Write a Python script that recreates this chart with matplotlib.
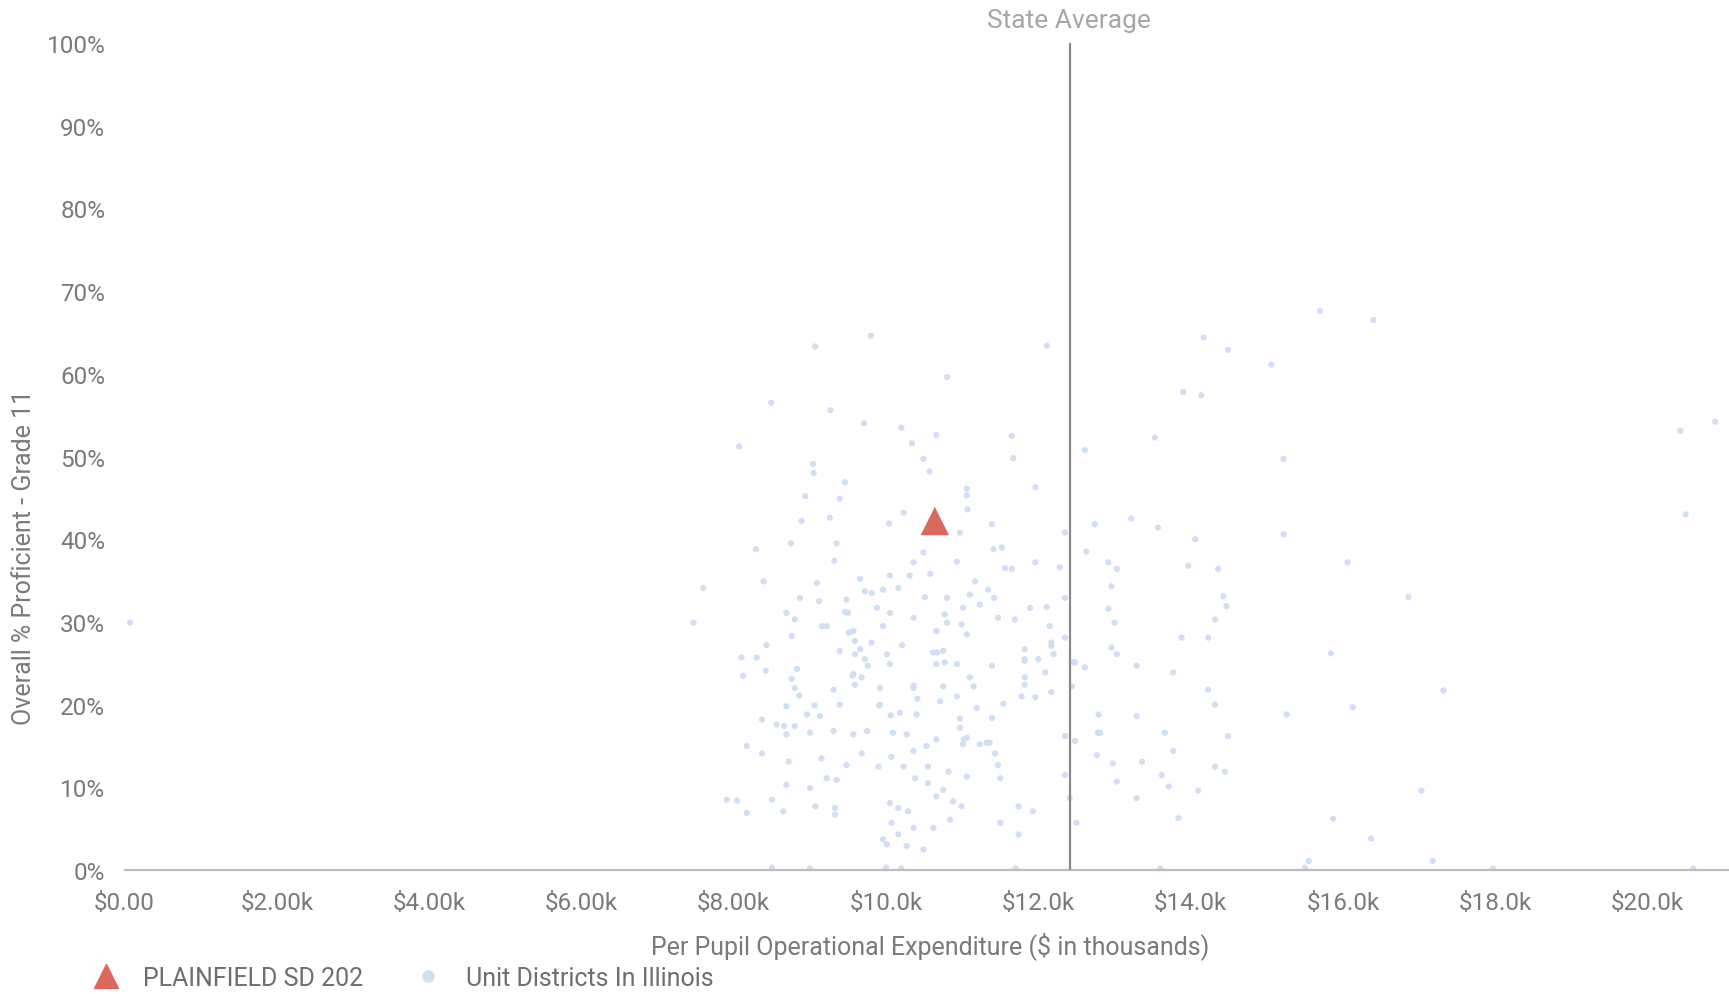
import matplotlib
matplotlib.use("Agg")
import matplotlib.pyplot as plt
from matplotlib.lines import Line2D

plt.rcParams['font.family'] = ['Roboto', 'DejaVu Sans']

# per pupil expenditure ($ thousands) and % proficient for each unit district
district_x = [
    9.07, 9.80, 10.80, 8.49, 9.27, 9.71, 10.20, 10.66, 10.34, 8.07, 10.49, 9.04, 9.05, 10.57, 9.46, 11.06,
    12.11, 14.17, 14.49, 15.06, 13.90, 14.14, 13.53, 11.65, 11.67, 12.61, 15.22, 11.96,
    8.94, 9.39, 11.06, 11.07, 10.23, 10.04, 8.89, 9.26, 10.97, 8.75, 9.35, 8.29, 9.32, 10.49, 10.36, 10.93,
    10.58, 10.31, 10.05, 9.66, 9.09, 8.39, 7.60, 11.17, 10.16, 9.96, 9.72, 9.81, 8.87, 9.12, 9.48, 10.51,
    10.80, 11.10, 11.23, 9.50, 9.88, 10.05, 8.69, 8.80, 7.47, 10.36, 10.77, 10.80, 11.01, 10.99, 9.22, 9.96,
    9.57, 10.66, 11.06, 8.76, 9.59, 9.81, 10.21, 8.43, 9.39, 9.59, 10.01, 10.62, 10.75, 8.10, 8.30, 9.72,
    10.05, 10.66, 10.93, 8.42, 8.83, 8.12, 9.57, 9.68, 11.10,
    11.39, 12.74, 13.22, 13.57, 14.06, 15.22, 12.35, 11.52, 11.41, 12.63, 11.96, 11.56, 11.65, 12.28, 12.92,
    13.03, 13.97, 14.36, 12.96, 12.35, 11.34, 11.42, 14.43, 14.47, 11.89, 12.11, 12.92, 11.47, 11.69, 13.00,
    14.32, 12.15, 12.35, 13.88, 14.23, 11.82, 12.17, 12.20, 12.96, 13.03, 12.00, 11.82, 11.39, 12.46, 12.61,
    13.29, 13.77, 12.09, 11.82,
    8.80, 9.31, 9.59, 9.92, 10.36, 10.75, 11.15, 10.93, 8.69, 8.96, 9.13, 9.39, 9.92, 10.18, 10.40, 10.71,
    11.19, 8.37, 8.56, 8.80, 8.69, 9.00, 9.31, 9.57, 9.75, 10.09, 10.27, 10.66, 10.97, 11.06, 11.23, 11.01,
    8.17, 8.37, 8.72, 9.15, 9.48, 9.68, 9.90, 10.07, 10.23, 10.36, 10.53, 10.55, 10.82, 11.06, 9.22, 9.35,
    8.69, 9.00, 10.38, 10.55, 10.75, 10.66, 10.88, 10.99, 7.91, 8.04, 8.17, 8.50, 8.65, 9.07, 9.33, 9.33,
    10.05, 10.16, 10.29, 10.84, 10.07, 10.36, 10.62, 10.16, 9.96, 10.27, 10.49, 10.01,
    11.82, 12.17, 11.78, 11.96, 12.44, 11.54, 14.23, 14.32, 11.39, 12.79, 13.29, 12.81, 13.66, 12.35, 12.48,
    14.49, 11.36, 11.43, 12.77, 12.98, 13.36, 13.77, 14.32, 14.45, 11.47, 11.50, 12.35, 13.03, 13.62, 13.71,
    14.10, 12.41, 13.29, 11.74, 11.93, 11.50, 12.50, 11.74, 13.84, 15.26,
    9.51, 9.66, 9.76, 9.56, 8.76, 8.86, 9.06, 8.66, 9.91, 10.06, 10.36, 10.41, 10.67, 10.77, 10.97, 11.02,
    11.32, 11.82, 12.17, 12.48, 12.78, 9.46, 9.16,
    16.06, 16.86, 15.84, 17.32, 16.13, 17.03, 15.87, 16.37, 15.55, 17.18, 20.50, 15.70, 16.40, 20.43, 20.89,
    0.07, 8.50, 9.00, 10.00, 10.20, 11.70, 13.60, 15.50, 17.97, 20.60,
]
district_y = [
    63.3, 64.6, 59.6, 56.5, 55.6, 54.0, 53.5, 52.6, 51.6, 51.2, 49.7, 49.1, 48.0, 48.2, 46.9, 46.1,
    63.4, 64.4, 62.9, 61.1, 57.8, 57.4, 52.3, 52.5, 49.8, 50.8, 49.7, 46.3,
    45.2, 44.9, 45.3, 43.6, 43.2, 41.9, 42.2, 42.6, 40.8, 39.5, 39.5, 38.8, 37.4, 38.4, 37.2, 37.3,
    35.8, 35.6, 35.6, 35.2, 34.7, 34.9, 34.1, 34.9, 34.1, 33.9, 33.7, 33.5, 32.9, 32.5, 32.7, 33.0,
    32.9, 33.3, 32.1, 31.1, 31.7, 31.1, 31.1, 30.3, 29.9, 30.5, 30.9, 29.9, 31.7, 29.7, 29.5, 29.5,
    28.9, 28.9, 28.5, 28.3, 27.7, 27.5, 27.2, 27.2, 26.5, 26.1, 26.1, 26.3, 26.5, 25.7, 25.7, 25.5,
    24.9, 24.9, 24.9, 24.1, 24.3, 23.5, 23.7, 23.3, 23.3,
    41.8, 41.8, 42.5, 41.4, 40.0, 40.6, 40.8, 39.0, 38.8, 38.5, 37.2, 36.5, 36.4, 36.6, 37.2,
    36.4, 36.8, 36.4, 34.3, 32.9, 33.9, 32.9, 33.1, 31.9, 31.7, 31.8, 31.6, 30.5, 30.3, 29.9,
    30.3, 29.5, 28.1, 28.1, 28.1, 26.7, 27.5, 26.1, 26.9, 26.1, 25.5, 25.3, 24.7, 25.1, 24.5,
    24.7, 23.9, 23.9, 23.3,
    22.0, 21.8, 22.4, 22.0, 22.0, 22.2, 22.2, 21.0, 19.8, 18.8, 18.6, 20.0, 20.0, 19.0, 18.8, 20.4,
    19.6, 18.2, 17.6, 17.4, 16.4, 16.6, 16.8, 16.4, 16.8, 16.6, 16.4, 15.8, 17.2, 16.0, 15.2, 15.2,
    15.0, 14.1, 13.1, 13.5, 12.7, 14.1, 12.5, 13.7, 12.5, 14.4, 15.0, 12.5, 11.9, 11.3, 11.1, 10.9,
    10.3, 9.9, 11.1, 10.5, 9.7, 8.9, 8.3, 7.7, 8.5, 8.4, 6.9, 8.5, 7.1, 7.7, 7.5, 6.7,
    8.1, 7.5, 7.1, 6.1, 5.7, 5.1, 5.1, 4.3, 3.7, 2.9, 2.5, 3.1,
    22.4, 21.5, 21.0, 20.9, 22.2, 20.1, 21.8, 20.0, 18.4, 18.8, 18.6, 16.6, 16.6, 16.2, 15.6,
    16.2, 15.4, 14.1, 13.9, 12.9, 13.1, 14.4, 12.5, 11.9, 12.7, 11.1, 11.5, 10.7, 11.5, 10.1,
    9.6, 8.7, 8.7, 7.7, 7.1, 5.7, 5.7, 4.3, 6.3, 18.8,
    28.7, 26.7, 24.7, 23.5, 23.1, 21.1, 19.9, 17.4, 19.9, 18.7, 22.3, 20.7, 26.3, 25.1, 18.3, 15.8,
    15.4, 25.5, 27.1, 25.1, 16.6, 31.2, 29.5,
    37.2, 33.0, 26.2, 21.7, 19.7, 9.6, 6.2, 3.8, 1.1, 1.1, 43.0, 67.6, 66.5, 53.1, 54.2,
    29.9, 0.3, 0.2, 0.3, 0.2, 0.2, 0.2, 0.3, 0.2, 0.2,
]

highlight_name = "PLAINFIELD SD 202"
highlight_x = [10.64]
highlight_y = [42.2]

state_avg = 12.41

x_ticks = [0, 2, 4, 6, 8, 10, 12, 14, 16, 18, 20]
x_tick_labels = ["$0.00", "$2.00k", "$4.00k", "$6.00k", "$8.00k", "$10.0k",
                 "$12.0k", "$14.0k", "$16.0k", "$18.0k", "$20.0k"]
y_ticks = [0, 10, 20, 30, 40, 50, 60, 70, 80, 90, 100]
y_tick_labels = [f"{v}%" for v in y_ticks]

grey = "#7a7a7a"
dot_color = "#d2dff2"
tri_color = "#d9695c"

fig = plt.figure(figsize=(17.29, 9.95), dpi=100)
ax = fig.add_axes([0.0721, 0.1246, 0.9279, 0.8312])

ax.scatter(district_x, district_y, s=20, color=dot_color, edgecolors="none", zorder=2)
ax.scatter(highlight_x, highlight_y, s=420, marker="^", color=tri_color,
           edgecolors="none", zorder=4)
ax.axvline(state_avg, color="#8a8a8a", lw=1.6, zorder=3)

ax.set_xlim(0, 21.07)
ax.set_ylim(0, 100)
ax.set_xticks(x_ticks)
ax.set_xticklabels(x_tick_labels)
ax.set_yticks(y_ticks)
ax.set_yticklabels(y_tick_labels)
ax.tick_params(axis="both", length=0, labelsize=17.5, labelcolor=grey)
ax.tick_params(axis="x", pad=15)
ax.tick_params(axis="y", pad=14)

for side in ["top", "right", "left"]:
    ax.spines[side].set_visible(False)
ax.spines["bottom"].set_color("#bdbdbd")
ax.spines["bottom"].set_linewidth(1.6)

fig.text(0.618, 0.979, "State Average", ha="center", va="center",
         fontsize=19, color="#a6a6a6")
fig.text(0.5377, 0.0492, "Per Pupil Operational Expenditure ($ in thousands)",
         ha="center", va="center", fontsize=18, color=grey)
fig.text(0.014, 0.44, "Overall % Proficient - Grade 11", ha="center", va="center",
         rotation=90, fontsize=18, color=grey)

handles = [
    Line2D([], [], marker="^", ls="none", color=tri_color, markersize=17),
    Line2D([], [], marker="o", ls="none", color=dot_color, markersize=8),
]
fig.legend(handles, [highlight_name, "Unit Districts In Illinois"],
           loc="center left", bbox_to_anchor=(0.054, 0.016), ncol=2,
           frameon=False, fontsize=18, labelcolor="#6e6e6e",
           handlelength=1.0, handletextpad=1.0, columnspacing=2.1,
           borderpad=0, borderaxespad=0)

fig.savefig("out.png", dpi=100)
